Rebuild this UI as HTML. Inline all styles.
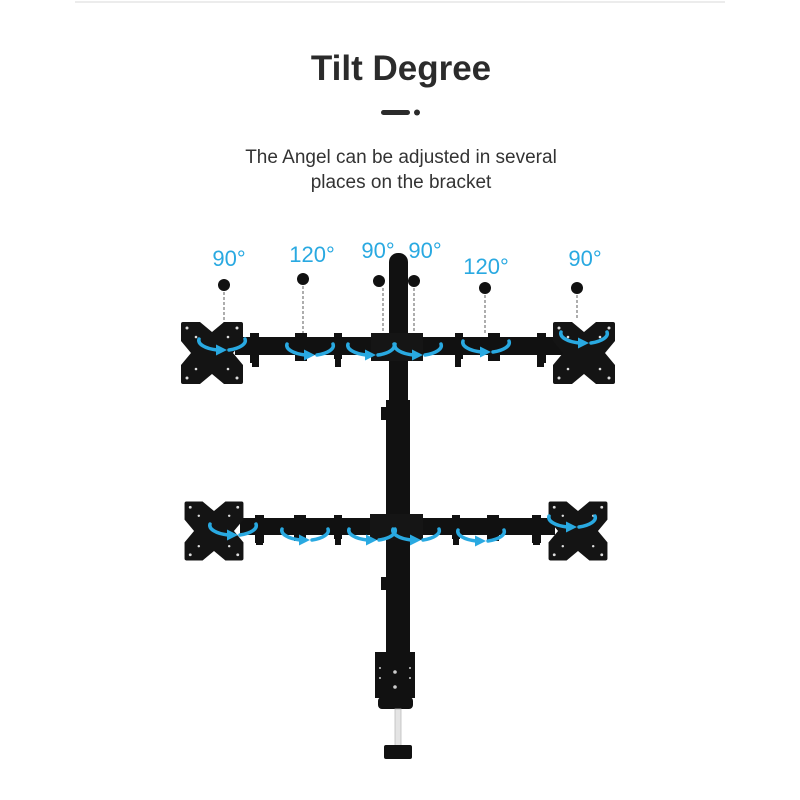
<!DOCTYPE html>
<html><head><meta charset="utf-8"><style>
html,body{margin:0;padding:0;background:#fff;}
svg{display:block;}
</style></head><body>
<svg width="800" height="800" viewBox="0 0 800 800" xmlns="http://www.w3.org/2000/svg">
<defs>
<path id="plate" d="M-31,-29 Q-31,-31 -29,-31 L-12,-31 L0,-21 L12,-31 L29,-31 Q31,-31 31,-29 L31,-12 L21,0 L31,12 L31,29 Q31,31 29,31 L12,31 L0,21 L-12,31 L-29,31 Q-31,31 -31,29 L-31,12 L-21,0 L-31,-12 Z" fill="#141414"/>
<g id="holes" fill="#ddd">
<circle cx="-25" cy="-25" r="1.5"/><circle cx="25" cy="-25" r="1.5"/><circle cx="-25" cy="25" r="1.5"/><circle cx="25" cy="25" r="1.5"/>
<circle cx="-16" cy="-16" r="1.3"/><circle cx="16" cy="-16" r="1.3"/><circle cx="-16" cy="16" r="1.3"/><circle cx="16" cy="16" r="1.3"/>
</g>
<g id="arr" fill="none" stroke="#29a9e1" stroke-width="3.5" stroke-linecap="round">
<path d="M-23,-6 A24,10 0 0,0 -5,5"/>
<path d="M7,5 A24,10 0 0,0 23,-6"/>
<polygon points="-6,-0.5 5,5 -6,10.5" fill="#29a9e1" stroke="none"/>
</g>
</defs>
<line x1="75" y1="2" x2="725" y2="2" stroke="#e6e6e6" stroke-width="1.5"/>
<text x="401" y="80" text-anchor="middle" font-family="Liberation Sans, sans-serif" font-weight="bold" font-size="35" fill="#2b2b2b">Tilt Degree</text>
<rect x="381" y="110" width="29" height="5" rx="2.5" fill="#2b2b2b"/>
<circle cx="417" cy="112.5" r="3" fill="#2b2b2b"/>
<text x="401" y="163" text-anchor="middle" font-family="Liberation Sans, sans-serif" font-size="19" fill="#333">The Angel can be adjusted in several</text>
<text x="401" y="188" text-anchor="middle" font-family="Liberation Sans, sans-serif" font-size="19" fill="#333">places on the bracket</text>

<g font-family="Liberation Sans, sans-serif" font-size="22" fill="#29a9e1" text-anchor="middle">
<text x="229" y="266">90°</text>
<text x="312" y="262">120°</text>
<text x="378" y="258">90°</text>
<text x="425" y="258">90°</text>
<text x="486" y="274">120°</text>
<text x="585" y="266">90°</text>
</g>
<g fill="#111">
<circle cx="224" cy="285" r="6"/><circle cx="303" cy="279" r="6"/><circle cx="379" cy="281" r="6"/>
<circle cx="414" cy="281" r="6"/><circle cx="485" cy="288" r="6"/><circle cx="577" cy="288" r="6"/>
</g>
<g stroke="#777" stroke-width="1.2" stroke-dasharray="3,2">
<line x1="224" y1="292" x2="224" y2="325"/><line x1="303" y1="286" x2="303" y2="335"/>
<line x1="383" y1="288" x2="383" y2="340"/><line x1="414" y1="288" x2="414" y2="340"/>
<line x1="485" y1="295" x2="485" y2="335"/><line x1="577" y1="295" x2="577" y2="320"/>
</g>

<rect x="389" y="253" width="19" height="160" rx="9" fill="#111"/>
<rect x="386" y="400" width="24" height="262" fill="#111"/>
<rect x="381" y="407" width="6" height="13" fill="#111"/>
<rect x="381" y="577" width="6" height="13" fill="#111"/>
<rect x="235" y="337" width="330" height="18" fill="#111"/>
<rect x="371" y="333" width="52" height="28" fill="#151515"/>
<g fill="#111">
<rect x="250" y="333" width="9" height="30"/><rect x="252" y="355" width="7" height="12"/>
<rect x="295" y="333" width="12" height="28"/>
<rect x="334" y="333" width="8" height="26"/><rect x="335" y="355" width="6" height="12"/>
<rect x="455" y="333" width="8" height="26"/><rect x="455" y="355" width="6" height="12"/>
<rect x="488" y="333" width="12" height="28"/>
<rect x="537" y="333" width="9" height="30"/><rect x="537" y="355" width="7" height="12"/>
</g>
<g transform="translate(212,353)"><use href="#plate"/><use href="#holes"/></g>
<g transform="translate(584,353)"><use href="#plate"/><use href="#holes"/></g>
<rect x="240" y="518" width="315" height="17" fill="#111"/>
<rect x="370" y="514" width="53" height="26" fill="#151515"/>
<g fill="#111">
<rect x="255" y="515" width="9" height="28"/><rect x="256" y="535" width="7" height="10"/>
<rect x="294" y="515" width="12" height="26"/>
<rect x="334" y="515" width="8" height="24"/><rect x="335" y="535" width="6" height="10"/>
<rect x="452" y="515" width="8" height="24"/><rect x="453" y="535" width="6" height="10"/>
<rect x="487" y="515" width="12" height="26"/>
<rect x="532" y="515" width="9" height="28"/><rect x="533" y="535" width="7" height="10"/>
</g>
<g transform="translate(214,531)"><use href="#plate" transform="scale(0.95)"/><use href="#holes" transform="scale(0.95)"/></g>
<g transform="translate(578,531)"><use href="#plate" transform="scale(0.95)"/><use href="#holes" transform="scale(0.95)"/></g>
<rect x="375" y="652" width="40" height="46" fill="#111"/>
<g fill="#ccc"><circle cx="395" cy="672" r="1.8"/><circle cx="395" cy="687" r="1.8"/><circle cx="380" cy="668" r="1"/><circle cx="380" cy="678" r="1"/><circle cx="410" cy="668" r="1"/><circle cx="410" cy="678" r="1"/></g>
<rect x="378" y="697" width="35" height="12" rx="4" fill="#111"/>
<rect x="395" y="709" width="6" height="38" fill="#e4e4e4" stroke="#bbb" stroke-width="0.8"/>
<rect x="384" y="745" width="28" height="14" rx="2" fill="#111"/>

<use href="#arr" x="222" y="345"/>
<use href="#arr" x="310" y="350"/>
<use href="#arr" x="371" y="350"/>
<use href="#arr" x="418" y="350"/>
<use href="#arr" x="486" y="347"/>
<use href="#arr" x="584" y="338"/>
<use href="#arr" x="233" y="530"/>
<use href="#arr" x="305" y="535"/>
<use href="#arr" x="372" y="535"/>
<use href="#arr" x="416" y="535"/>
<use href="#arr" x="481" y="536"/>
<use href="#arr" x="572" y="522"/>
</svg>
</body></html>
